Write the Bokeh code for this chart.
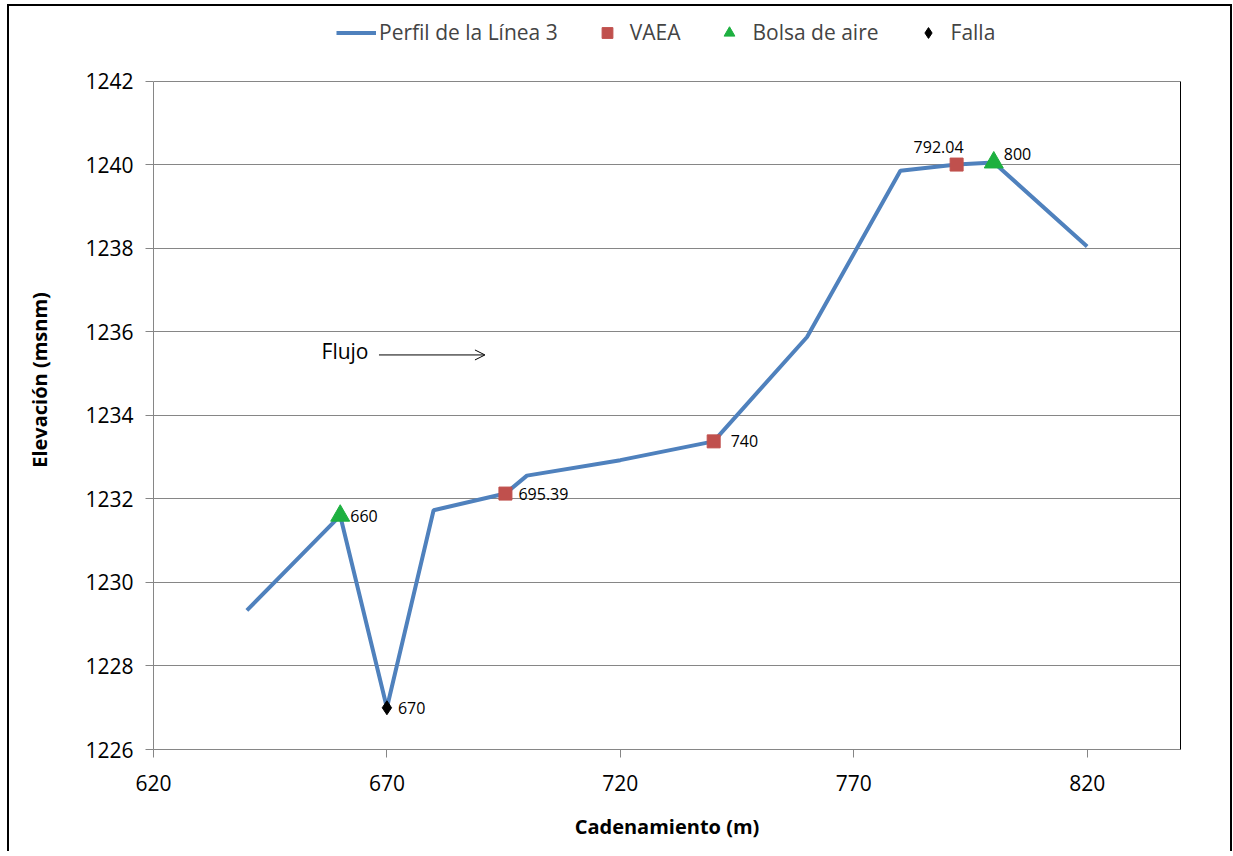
from bokeh.plotting import figure
from bokeh.models import (ColumnDataSource, Legend, LegendItem, LinearAxis, Arrow,
                          OpenHead, Label, FixedTicker, Range1d)
from bokeh.core.properties import value
from bokeh.embed import file_html
from bokeh.resources import INLINE

# ---- data ----
cad = [640, 660, 670, 680, 695.39, 700, 720, 740, 760, 780, 792.04, 800, 820]
elev = [1229.33, 1231.6, 1227.0, 1231.73, 1232.13, 1232.56, 1232.93, 1233.38,
        1235.88, 1239.86, 1240.01, 1240.06, 1238.05]

vaea_x = [695.39, 740, 792.04]
vaea_y = [1232.13, 1233.38, 1240.01]
bolsa_x = [660, 800]
bolsa_y = [1231.6, 1240.06]
falla_x = [670]
falla_y = [1227.0]

x_ticks = [620, 670, 720, 770, 820]
y_ticks = [1226, 1228, 1230, 1232, 1234, 1236, 1238, 1240, 1242]

FONT = "Open Sans"
Y_MIN, Y_MAX = 1226, 1242
Y_TOP = 1243.70   # extra headroom inside the frame, used for the legend

p = figure(frame_width=1027, frame_height=739, output_backend="svg", toolbar_location=None,
           x_range=Range1d(620, 840), y_range=Range1d(Y_MIN, Y_TOP),
           min_border_left=144, min_border_top=4, min_border_right=50,
           min_border_bottom=102)
p.margin = (4, 0, 0, 7)
p.styles = {"border-top": "2px solid #000000", "border-left": "2px solid #000000",
            "border-right": "2px solid #000000"}
p.outline_line_color = None
p.background_fill_color = "white"

line = p.line(cad, elev, line_color="#4F81BD", line_width=4)
sq = p.scatter(vaea_x, vaea_y, marker="square", size=13, fill_color="#C0504D",
               line_color="#C0504D")
tr = p.scatter(bolsa_x, bolsa_y, marker="triangle", size=19, fill_color="#1DB040",
               line_color="#1DB040")
di = p.scatter(falla_x, falla_y, marker="diamond", size=14, fill_color="#000000",
               line_color="#000000")

# data labels
lbl_x = vaea_x + bolsa_x + falla_x
lbl_y = vaea_y + bolsa_y + falla_y
lbl_txt = ["695.39", "740", "792.04", "660", "800", "670"]
lbl_dx = [13, 17, -43, 10, 10, 11]
lbl_dy = [0, 0, -18, 0, -8, 0]
src = ColumnDataSource(dict(x=lbl_x, y=lbl_y, t=lbl_txt, dx=lbl_dx, dy=lbl_dy))
p.text(x="x", y="y", text="t", x_offset="dx", y_offset="dy", source=src,
       text_font=value(FONT), text_font_size="16px", text_baseline="middle",
       text_align="left", text_color="#000000")

# Flujo annotation
p.add_layout(Label(x=656.0, y=1235.55, text="Flujo", text_font=FONT,
                   text_font_size="21px", text_baseline="middle", text_color="#000000"))
p.add_layout(Arrow(x_start=668.3, y_start=1235.45, x_end=691.0, y_end=1235.45,
                   line_width=1, line_color="#000000",
                   end=OpenHead(size=10, line_width=1, line_color="#000000")))

# axes
for ax in (p.xaxis[0], p.yaxis[0]):
    ax.axis_line_color = "#868686"
    ax.major_tick_line_color = "#868686"
    ax.minor_tick_line_color = None
    ax.major_tick_in = 0
    ax.major_tick_out = 8
    ax.major_label_text_font = FONT
    ax.major_label_text_font_size = "21px"
    ax.major_label_text_color = "#000000"
    ax.axis_label_text_font = FONT
    ax.axis_label_text_font_size = "20px"
    ax.axis_label_text_font_style = "bold"
    ax.axis_label_text_color = "#000000"

p.yaxis.bounds = (Y_MIN, Y_MAX)
p.xaxis.ticker = FixedTicker(ticks=x_ticks)
p.yaxis.ticker = FixedTicker(ticks=y_ticks)
p.xaxis.axis_label = "Cadenamiento (m)"
p.yaxis.axis_label = "Elevación (msnm)"
p.xaxis.major_label_standoff = 17
p.yaxis.major_label_standoff = 12
p.xaxis.axis_label_standoff = 19
p.yaxis.axis_label_standoff = 29

right = LinearAxis(ticker=FixedTicker(ticks=[]), axis_line_color="#000000",
                   major_label_text_font_size="0px", bounds=(Y_MIN, Y_MAX))
p.add_layout(right, "right")

p.xgrid.grid_line_color = None
p.ygrid.grid_line_color = "#868686"
p.ygrid.ticker = FixedTicker(ticks=y_ticks)

legend = Legend(items=[
    LegendItem(label="Perfil de la Línea 3", renderers=[line]),
    LegendItem(label="VAEA", renderers=[sq]),
    LegendItem(label="Bolsa de aire", renderers=[tr]),
    LegendItem(label="Falla", renderers=[di]),
], orientation="horizontal", location=(183, 703), border_line_color=None,
    background_fill_alpha=0, label_text_font=FONT, label_text_font_size="21px",
    glyph_width=40, glyph_height=27, spacing=29, label_standoff=3, padding=0,
    margin=0)
p.add_layout(legend, "center")

open("out.html", "w").write(file_html(p, INLINE))
